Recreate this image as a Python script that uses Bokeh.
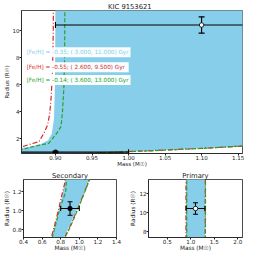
import numpy as np
from bokeh.plotting import figure
from bokeh.layouts import column, row
from bokeh.models import Range1d, FixedTicker, PrintfTickFormatter, Label
from bokeh.embed import file_html
from bokeh.resources import INLINE

# ---------------- data ----------------
kic_id = "9153621"

feh_values = [-0.35, -0.55, -0.14]
age_young = [3.000, 2.600, 3.600]
age_old = [11.000, 9.500, 13.000]

# [Fe/H] = -0.35 isochrones (filled band)
blue_old_mass = [0.62, 0.67, 0.705, 0.74, 0.78, 0.81, 0.85, 0.868, 0.880, 0.890, 0.895, 0.898, 0.8993, 0.8998, 0.9000]
blue_old_radius = [0.55, 0.64, 0.723, 0.85, 1.00, 1.13, 1.31, 1.43, 1.62, 1.90, 2.40, 3.50, 6.00, 10.0, 16.0]
blue_young_mass = [0.62, 0.70, 0.78, 0.835, 0.89, 0.94, 1.00, 1.05, 1.11, 1.155, 1.20, 1.24, 1.27, 1.29, 1.30, 1.302, 1.303]
blue_young_radius = [0.50, 0.58, 0.66, 0.723, 0.83, 0.94, 1.07, 1.18, 1.32, 1.42, 1.58, 1.80, 2.20, 3.00, 5.0, 10.0, 16.0]

# [Fe/H] = -0.55 isochrones
red_old_mass = [0.61, 0.66, 0.70, 0.735, 0.775, 0.805, 0.848, 0.862, 0.8775, 0.884, 0.889, 0.892, 0.894, 0.896, 0.897, 0.8975]
red_old_radius = [0.55, 0.64, 0.723, 0.85, 1.00, 1.13, 1.30, 1.55, 1.80, 2.40, 3.00, 3.80, 5.00, 7.00, 10.0, 16.0]
red_young_mass = [0.63, 0.71, 0.79, 0.843, 0.898, 0.948, 1.005, 1.052, 1.108, 1.155, 1.20, 1.24, 1.275, 1.295, 1.305, 1.308, 1.309]
red_young_radius = [0.50, 0.58, 0.66, 0.723, 0.83, 0.94, 1.07, 1.18, 1.32, 1.46, 1.62, 1.84, 2.25, 3.05, 5.0, 10.0, 16.0]

# [Fe/H] = -0.14 isochrones
green_old_mass = [0.62, 0.67, 0.71, 0.745, 0.785, 0.82, 0.8535, 0.869, 0.8907, 0.9017, 0.9075, 0.9095, 0.9115, 0.9125, 0.9128, 0.913]
green_old_radius = [0.55, 0.64, 0.723, 0.85, 1.00, 1.10, 1.19, 1.43, 1.67, 2.40, 2.90, 3.90, 5.80, 8.00, 11.5, 16.0]
green_young_mass = [0.635, 0.715, 0.795, 0.848, 0.903, 0.953, 1.008, 1.055, 1.11, 1.155, 1.205, 1.245, 1.28, 1.30, 1.31, 1.313, 1.314]
green_young_radius = [0.50, 0.58, 0.66, 0.723, 0.83, 0.94, 1.07, 1.18, 1.32, 1.48, 1.64, 1.86, 2.30, 3.10, 5.0, 10.0, 16.0]

# observed stars
primary_mass, primary_mass_err = 1.10, 0.20
primary_radius, primary_radius_err = 10.4, 0.6
secondary_mass, secondary_mass_err = 0.90, 0.10
secondary_radius, secondary_radius_err = 1.02, 0.07

# axis ranges / ticks
main_xrange = (0.8535, 1.156)
main_yrange = (0.92, 11.47)
main_xticks = [0.90, 0.95, 1.00, 1.05, 1.10, 1.15]
main_yticks = [2, 4, 6, 8, 10]
sec_xrange = (0.4, 1.4)
sec_yrange = (0.72, 1.32)
sec_xticks = [0.4, 0.6, 0.8, 1.0, 1.2, 1.4]
sec_yticks = [0.8, 1.0, 1.2]
prim_xrange = (0.1, 2.1)
prim_yrange = (7.4, 13.4)
prim_xticks = [0.5, 1.0, 1.5, 2.0]
prim_yticks = [8, 10, 12]

SKY = "#87ceeb"
RED = "#d62728"
GREEN = "#2ca02c"
FONT = "DejaVu Sans"


def style(p, xticks, yticks, xfmt, yfmt, tick_fs, lab_fs, title_fs):
    p.xgrid.visible = False
    p.ygrid.visible = False
    p.outline_line_color = "#222222"
    p.outline_line_width = 0.8
    p.background_fill_color = "white"
    p.border_fill_color = "white"
    p.xaxis.ticker = FixedTicker(ticks=xticks)
    p.yaxis.ticker = FixedTicker(ticks=yticks)
    p.xaxis.formatter = PrintfTickFormatter(format=xfmt)
    p.yaxis.formatter = PrintfTickFormatter(format=yfmt)
    for ax in (p.xaxis[0], p.yaxis[0]):
        ax.axis_line_color = "#222222"
        ax.axis_line_width = 0.8
        ax.major_tick_in = 0
        ax.major_tick_out = 2
        ax.major_tick_line_color = "#222222"
        ax.minor_tick_line_color = None
        ax.major_label_text_font = FONT
        ax.major_label_text_font_size = tick_fs
        ax.major_label_text_color = "#222222"
        ax.axis_label_text_font = FONT
        ax.axis_label_text_font_size = lab_fs
        ax.axis_label_text_font_style = "normal"
        ax.axis_label_text_color = "#222222"
    p.xaxis.major_label_standoff = -1
    p.xaxis.axis_label_standoff = -2
    p.yaxis.major_label_standoff = 0
    p.yaxis.axis_label_standoff = 0
    p.xaxis.axis_label = "Mass (M\u2609)"
    p.yaxis.axis_label = "Radius (R\u2609)"
    p.title.align = "center"
    p.title.text_font = FONT
    p.title.text_font_size = title_fs
    p.title.text_font_style = "normal"
    p.title.text_color = "#222222"
    p.title.standoff = 0
    p.title.offset = 0


def draw_content(p, cap):
    # filled band between young and old isochrones
    band_x = list(blue_young_mass) + list(blue_old_mass[::-1])
    band_y = list(blue_young_radius) + list(blue_old_radius[::-1])
    p.patch(band_x, band_y, fill_color=SKY, line_color=None)
    for mx, ry in ((red_old_mass, red_old_radius), (red_young_mass, red_young_radius)):
        p.line(mx, ry, line_color=RED, line_width=1.2, line_dash="5 2 1 2")
    for mx, ry in ((green_old_mass, green_old_radius), (green_young_mass, green_young_radius)):
        p.line(mx, ry, line_color=GREEN, line_width=1.2, line_dash="4 2")
    # error bars
    for (m, me, r, re, fill) in ((primary_mass, primary_mass_err, primary_radius, primary_radius_err, "white"),
                                 (secondary_mass, secondary_mass_err, secondary_radius, secondary_radius_err, "black")):
        p.segment([m - me], [r], [m + me], [r], line_color="black", line_width=1.1)
        p.segment([m], [r - re], [m], [r + re], line_color="black", line_width=1.1)
        p.scatter([m, m], [r - re, r + re], marker="dash", size=cap, line_color="black", line_width=1.1)
        p.scatter([m - me, m + me], [r, r], marker="dash", angle=np.pi / 2, size=cap,
                  line_color="black", line_width=1.1)
        p.scatter([m], [r], marker="circle", size=4.5, fill_color=fill, line_color="black", line_width=0.8)


# ---------------- main panel ----------------
main = figure(width=250, frame_height=143, output_backend="svg", toolbar_location=None,
              x_range=Range1d(*main_xrange), y_range=Range1d(*main_yrange),
              title="KIC   " + kic_id,
              min_border_left=14, min_border_right=8, min_border_top=0, min_border_bottom=0)
style(main, main_xticks, main_yticks, "%.2f", "%d", "5.5px", "5.5px", "6.8px")
draw_content(main, 6)

label_colors = [SKY, RED, GREEN]
label_y = [8.39, 7.29, 6.34]
for feh, a0, a1, col, yy in zip(feh_values, age_young, age_old, label_colors, label_y):
    txt = "[Fe/H] = %5.2f; (%6.3f, %6.3f) Gyr" % (feh, a0, a1)
    main.add_layout(Label(x=0.8578, y=yy, text=txt, text_color=col, text_font=FONT,
                          text_font_size="5.7px", text_baseline="middle",
                          background_fill_color="white", background_fill_alpha=0.95,
                          padding=2))

# ---------------- secondary panel ----------------
sec = figure(width=127, frame_height=58, output_backend="svg", toolbar_location=None,
             x_range=Range1d(*sec_xrange), y_range=Range1d(*sec_yrange),
             title="Secondary",
             min_border_left=14, min_border_right=11, min_border_top=0, min_border_bottom=0)
style(sec, sec_xticks, sec_yticks, "%.1f", "%.1f", "5.6px", "5.8px", "6.8px")
draw_content(sec, 5)

# ---------------- primary panel ----------------
prim = figure(width=123, frame_height=58, output_backend="svg", toolbar_location=None,
              x_range=Range1d(*prim_xrange), y_range=Range1d(*prim_yrange),
              title="Primary",
              min_border_left=17, min_border_right=8, min_border_top=0, min_border_bottom=0)
style(prim, prim_xticks, prim_yticks, "%.1f", "%d", "5.6px", "5.8px", "6.8px")
draw_content(prim, 5)

layout = column(main, row(sec, prim, spacing=0), spacing=0)

open("out.html", "w").write(file_html(layout, INLINE))
